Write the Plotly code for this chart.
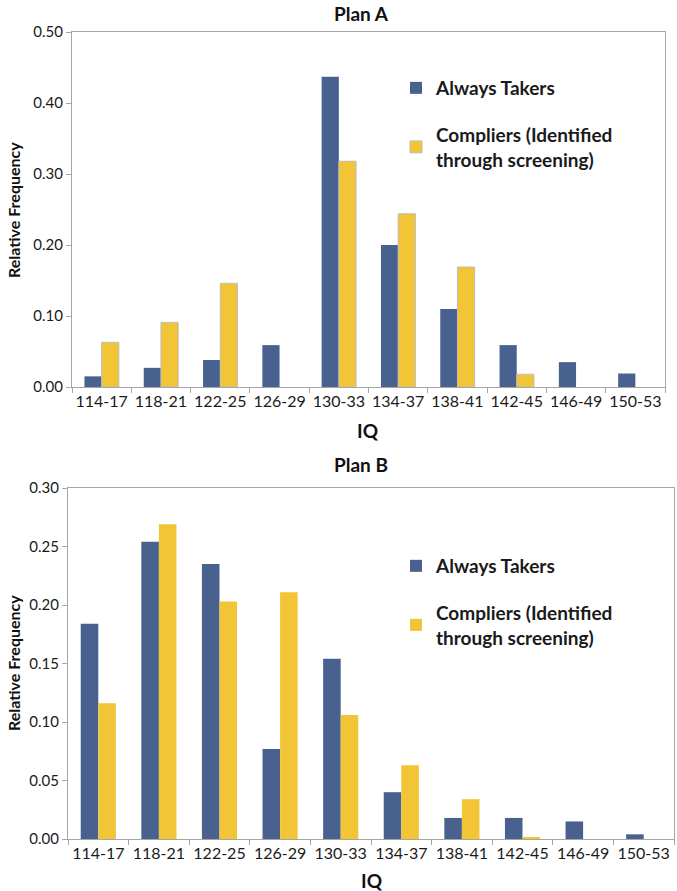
import plotly.graph_objects as go

categories = ["114-17", "118-21", "122-25", "126-29", "130-33",
              "134-37", "138-41", "142-45", "146-49", "150-53"]

planA_always = [0.015, 0.027, 0.038, 0.059, 0.437, 0.200, 0.110, 0.059, 0.035, 0.019]
planA_compliers = [0.063, 0.091, 0.146, 0.0, 0.318, 0.244, 0.169, 0.018, 0.0, 0.0]

planB_always = [0.184, 0.254, 0.235, 0.077, 0.154, 0.040, 0.018, 0.018, 0.015, 0.004]
planB_compliers = [0.116, 0.269, 0.203, 0.211, 0.106, 0.063, 0.034, 0.001, 0.0, 0.0]

series_names = ["Always Takers", "Compliers (Identified<br>through screening)"]

BLUE = "#48618F"
YELLOW = "#F1C536"
FONT = "Lato, 'Open Sans', sans-serif"
W, H = 677, 891

fig = go.Figure()

fig.add_trace(go.Bar(x=categories, y=planA_always, name=series_names[0],
                     marker=dict(color=BLUE, line=dict(width=0)),
                     xaxis="x", yaxis="y", legend="legend", legendgroup="a1"))
fig.add_trace(go.Bar(x=categories, y=planA_compliers, name=series_names[1],
                     marker=dict(color=YELLOW,
                                 line=dict(width=[1 if v > 0 else 0 for v in planA_compliers],
                                           color="#BDBDBD")),
                     xaxis="x", yaxis="y", legend="legend", legendgroup="a2"))
fig.add_trace(go.Bar(x=categories, y=planB_always, name=series_names[0],
                     marker=dict(color=BLUE, line=dict(width=0)),
                     xaxis="x2", yaxis="y2", legend="legend2", legendgroup="b1"))
fig.add_trace(go.Bar(x=categories, y=planB_compliers, name=series_names[1],
                     marker=dict(color=YELLOW, line=dict(width=0)),
                     xaxis="x2", yaxis="y2", legend="legend2", legendgroup="b2"))

axis_common = dict(showline=True, linecolor="#A6A6A6", linewidth=1, mirror=True,
                   ticks="outside", ticklen=5, tickcolor="#A6A6A6",
                   showgrid=False, zeroline=False, automargin=False,
                   tickangle=0)
xfont = dict(family=FONT, size=16, color="#1a1a1a")
yfont = dict(family=FONT, size=15, color="#1a1a1a")

def px_x(p):
    return p / W

def px_y(p):
    return 1 - p / H

legend_font = dict(family=FONT, size=19, color="#1a1a1a", weight="bold")

fig.update_layout(
    width=W, height=H,
    margin=dict(l=0, r=0, t=0, b=0, autoexpand=False),
    paper_bgcolor="white", plot_bgcolor="white",
    font=dict(family=FONT, color="#1a1a1a"),
    barmode="group", bargap=0.42, bargroupgap=0.0,
    xaxis=dict(domain=[px_x(72), px_x(665)], anchor="y", type="category",
               tickson="boundaries", tickfont=xfont, **axis_common),
    yaxis=dict(domain=[px_y(387), px_y(32)], anchor="x", range=[0, 0.5],
               dtick=0.1, tickformat=".2f", tickfont=yfont, **axis_common),
    xaxis2=dict(domain=[px_x(68), px_x(674)], anchor="y2", type="category",
                tickson="boundaries", tickfont=xfont, **axis_common),
    yaxis2=dict(domain=[px_y(839), px_y(488)], anchor="x2", range=[0, 0.3],
                dtick=0.05, tickformat=".2f", tickfont=yfont, **axis_common),
    legend=dict(x=px_x(396), y=px_y(69), xanchor="left", yanchor="top",
                font=legend_font, tracegroupgap=19, traceorder="grouped",
                bgcolor="rgba(0,0,0,0)"),
    legend2=dict(x=px_x(396), y=px_y(547), xanchor="left", yanchor="top",
                 font=legend_font, tracegroupgap=19, traceorder="grouped",
                 bgcolor="rgba(0,0,0,0)"),
)

annotations = [
    dict(text="<b>Plan A</b>", x=px_x(361), y=px_y(13), size=19),
    dict(text="<b>Plan B</b>", x=px_x(361), y=px_y(465), size=19),
    dict(text="<b>IQ</b>", x=px_x(368), y=px_y(430), size=19),
    dict(text="<b>IQ</b>", x=px_x(372), y=px_y(880), size=19),
]
for a in annotations:
    fig.add_annotation(text=a["text"], x=a["x"], y=a["y"], xref="paper", yref="paper",
                       showarrow=False, xanchor="center", yanchor="middle",
                       font=dict(family=FONT, size=a["size"], color="#111"))

for yc in (210, 663):
    fig.add_annotation(text="<b>Relative Frequency</b>", x=px_x(13), y=px_y(yc),
                       xref="paper", yref="paper", showarrow=False, textangle=-90,
                       xanchor="center", yanchor="middle",
                       font=dict(family=FONT, size=16, color="#111"))

# remove the page's default 8px body margin so the figure fills the window
fig.write_html("out.html", config={"displayModeBar": False},
               post_script="document.body.style.margin='0px';")
